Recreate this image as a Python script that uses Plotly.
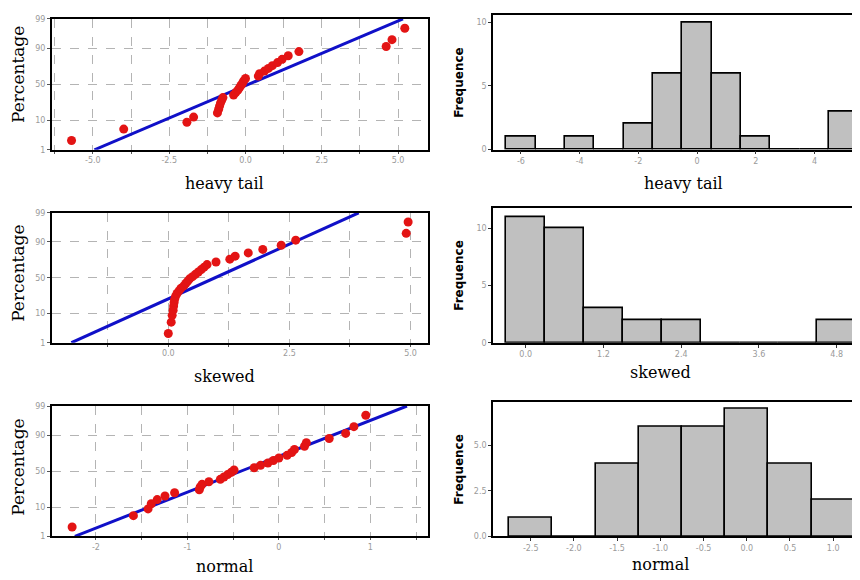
import plotly.graph_objects as go
from statistics import NormalDist

# ---------------- data ----------------
pct = [2.3, 5.6, 8.9, 12.2, 15.5, 18.8, 22.0, 25.3, 28.6, 31.9,
       35.2, 38.5, 41.8, 45.1, 48.4, 51.6, 54.9, 58.2, 61.5, 64.8,
       68.1, 71.4, 74.7, 78.0, 81.3, 84.5, 87.8, 91.1, 94.4, 97.7]

heavy_tail = [-5.70, -3.99, -1.92, -1.70, -0.92, -0.88, -0.85, -0.82, -0.78, -0.74,
              -0.39, -0.32, -0.25, -0.20, -0.15, -0.10, -0.06, 0.00, 0.42, 0.46,
              0.62, 0.75, 0.88, 1.05, 1.20, 1.40, 1.75, 4.61, 4.80, 5.22]
skewed = [0.00, 0.06, 0.08, 0.10, 0.11, 0.12, 0.13, 0.15, 0.18, 0.22,
          0.26, 0.32, 0.36, 0.40, 0.44, 0.50, 0.56, 0.62, 0.68, 0.74,
          0.80, 0.985, 1.27, 1.38, 1.65, 1.95, 2.33, 2.63, 4.91, 4.95]
normal = [-2.26, -1.59, -1.43, -1.395, -1.33, -1.245, -1.14, -0.87, -0.86, -0.84,
          -0.765, -0.64, -0.60, -0.56, -0.52, -0.49, -0.27, -0.20, -0.12, -0.06,
          0.00, 0.09, 0.14, 0.17, 0.28, 0.30, 0.55, 0.73, 0.82, 0.95]

fit_pct = [1, 99]
heavy_fit = [-4.95, 5.16]
skewed_fit = [-2.00, 3.93]
normal_fit = [-2.23, 1.40]

pct_ticks = [1, 10, 50, 90, 99]

heavy_bins = [-6, -5, -4, -3, -2, -1, 0, 1, 2, 3, 4, 5]
heavy_counts = [1, 0, 1, 0, 2, 6, 10, 6, 1, 0, 0, 3]
skewed_bins = [0.0, 0.6, 1.2, 1.8, 2.4, 3.0, 3.6, 4.2, 4.8]
skewed_counts = [11, 10, 3, 2, 2, 0, 0, 0, 2]
normal_bins = [-2.5, -2.0, -1.5, -1.0, -0.5, 0.0, 0.5, 1.0]
normal_counts = [1, 0, 4, 6, 6, 7, 4, 2]

names = ["heavy tail", "skewed", "normal"]

# ---------------- figure ----------------
nd = NormalDist()
def zval(p):
    return nd.inv_cdf(p / 100.0)

# the page body has an 8px margin; the figure is sized to fill the rest of the window
OFF = 8
W, H = 860 - OFF, 580 - OFF
def px(x):
    return (x - OFF) / W
def py(y):
    return 1 - (y - OFF) / H
def dx(a, b):
    return [max(px(a), 0.0), min(px(b), 1.0)]
def dy(top, bottom):
    return [max(py(bottom), 0.0), min(py(top), 1.0)]

fig = go.Figure()

tick_font = dict(family="DejaVu Sans", size=8, color="#9a9a9a")
RED = "#e31414"
BLUE = "#1010c8"

qq = [
    (heavy_tail, heavy_fit, (15, 148), [-6.34, 5.98], 1.25, 2.5, "{:.1f}"),
    (skewed, skewed_fit, (212, 344), [-2.40, 5.36], 1.25, 2.5, "{:.1f}"),
    (normal, normal_fit, (408.3, 540.7), [-2.48, 1.63], 0.5, 1.0, "{:.0f}"),
]
hist = [
    (heavy_bins, heavy_counts, 1.0, (10.7, 147.7), [-6.95, 5.55], [0, 10.6],
     [-6, -4, -2, 0, 2, 4], ["-6", "-4", "-2", "0", "2", "4"], [0, 5, 10], ["0", "5", "10"]),
    (skewed_bins, skewed_counts, 0.6, (207.3, 344), [-0.505, 5.16], [0, 11.75],
     [0.0, 1.2, 2.4, 3.6, 4.8], ["0.0", "1.2", "2.4", "3.6", "4.8"], [0, 5, 10], ["0", "5", "10"]),
    (normal_bins, normal_counts, 0.5, (404, 540.7), [-2.936, 1.31], [0, 7.4],
     [-2.5, -2.0, -1.5, -1.0, -0.5, 0.0, 0.5, 1.0],
     ["-2.5", "-2.0", "-1.5", "-1.0", "-0.5", "0.0", "0.5", "1.0"],
     [0, 2.5, 5.0], ["0.0", "2.5", "5.0"]),
]

layout_axes = {}
ztick = [zval(p) for p in pct_ticks]
zlim = [zval(1), zval(99)]

for i, (data, fit, (top, bot), xr, gstep, lstep, fmt) in enumerate(qq):
    n = 2 * i + 1
    xa = "x" if n == 1 else f"x{n}"
    ya = "y" if n == 1 else f"y{n}"
    fig.add_trace(go.Scatter(x=fit, y=[zval(p) for p in fit_pct], mode="lines",
                             line=dict(color=BLUE, width=3), xaxis=xa, yaxis=ya,
                             showlegend=False, hoverinfo="skip"))
    fig.add_trace(go.Scatter(x=data, y=[zval(p) for p in pct], mode="markers",
                             marker=dict(color=RED, size=9), xaxis=xa, yaxis=ya,
                             showlegend=False))
    start = round(xr[0] / gstep) * gstep
    if start < xr[0]:
        start += gstep
    tv, tt = [], []
    v = start
    while v <= xr[1] + 1e-9:
        tv.append(round(v, 6))
        ratio = v / lstep
        lab = fmt.format(v + 0.0) if abs(ratio - round(ratio)) < 1e-6 else ""
        if lab in ("-0.0", "-0"):
            lab = lab[1:]
        tt.append(lab)
        v += gstep
    layout_axes["xaxis" if n == 1 else f"xaxis{n}"] = dict(
        domain=dx(52, 428), anchor=ya, range=xr, tickvals=tv, ticktext=tt,
        showgrid=True, gridcolor="#b4b4b4", griddash="dash", gridwidth=1,
        showline=True, mirror=True, linecolor="black", linewidth=2,
        ticks="outside", ticklen=2, tickcolor="#555", tickfont=tick_font,
        zeroline=False, fixedrange=True)
    layout_axes["yaxis" if n == 1 else f"yaxis{n}"] = dict(
        domain=dy(top, bot), anchor=xa, range=zlim, tickvals=ztick,
        ticktext=[str(p) for p in pct_ticks],
        showgrid=True, gridcolor="#b4b4b4", griddash="dash", gridwidth=1,
        showline=True, mirror=True, linecolor="black", linewidth=2,
        ticks="outside", ticklen=3, tickcolor="#555", tickfont=tick_font,
        zeroline=False, fixedrange=True)

for i, (bins, counts, bw, (top, bot), xr, yr, xtv, xtt, ytv, ytt) in enumerate(hist):
    n = 2 * i + 2
    xa, ya = f"x{n}", f"y{n}"
    fig.add_trace(go.Bar(x=bins, y=counts, width=bw, xaxis=xa, yaxis=ya,
                         marker=dict(color="#c0c0c0", line=dict(color="black", width=1.6)),
                         showlegend=False))
    layout_axes[f"xaxis{n}"] = dict(
        domain=dx(493, 862), anchor=ya, range=xr, tickvals=xtv, ticktext=xtt,
        showgrid=False, showline=True, mirror=True, linecolor="black", linewidth=1.6,
        ticks="outside", ticklen=3, tickcolor="#333", tickfont=tick_font,
        zeroline=False, fixedrange=True)
    layout_axes[f"yaxis{n}"] = dict(
        domain=dy(top, bot), anchor=xa, range=yr, tickvals=ytv, ticktext=ytt,
        showgrid=False, showline=True, mirror=False, linecolor="black", linewidth=1.6,
        ticks="outside", ticklen=3, tickcolor="#333", tickfont=tick_font,
        zeroline=False, fixedrange=True)

serif = dict(family="DejaVu Serif", size=16, color="black")
ann = []
left_title_y = [182, 378, 571]
right_title_x = [683, 660, 660]
right_title_y = [182, 374, 569]
perc_y = [72, 274, 471]
freq_y = [80, 276, 473]
for i, nm in enumerate(names):
    ann.append(dict(text=nm, x=px(224), y=py(left_title_y[i]), xref="paper", yref="paper",
                    showarrow=False, font=serif, xanchor="center", yanchor="middle"))
    ann.append(dict(text=nm, x=px(right_title_x[i]), y=py(right_title_y[i]), xref="paper",
                    yref="paper", showarrow=False, font=serif, xanchor="center", yanchor="middle"))
    ann.append(dict(text="Percentage", x=px(18), y=py(perc_y[i]), xref="paper", yref="paper",
                    showarrow=False, textangle=-90,
                    font=dict(family="DejaVu Serif", size=17, color="black"),
                    xanchor="center", yanchor="middle"))
    ann.append(dict(text="<b>Frequence</b>", x=px(459), y=py(freq_y[i]), xref="paper",
                    yref="paper", showarrow=False, textangle=-90,
                    font=dict(family="DejaVu Sans", size=12, color="black"),
                    xanchor="center", yanchor="middle"))

fig.update_layout(width=W, height=H, margin=dict(l=0, r=0, t=0, b=0),
                  paper_bgcolor="white", plot_bgcolor="white", bargap=0,
                  annotations=ann, **layout_axes)

fig.write_html("out.html")
